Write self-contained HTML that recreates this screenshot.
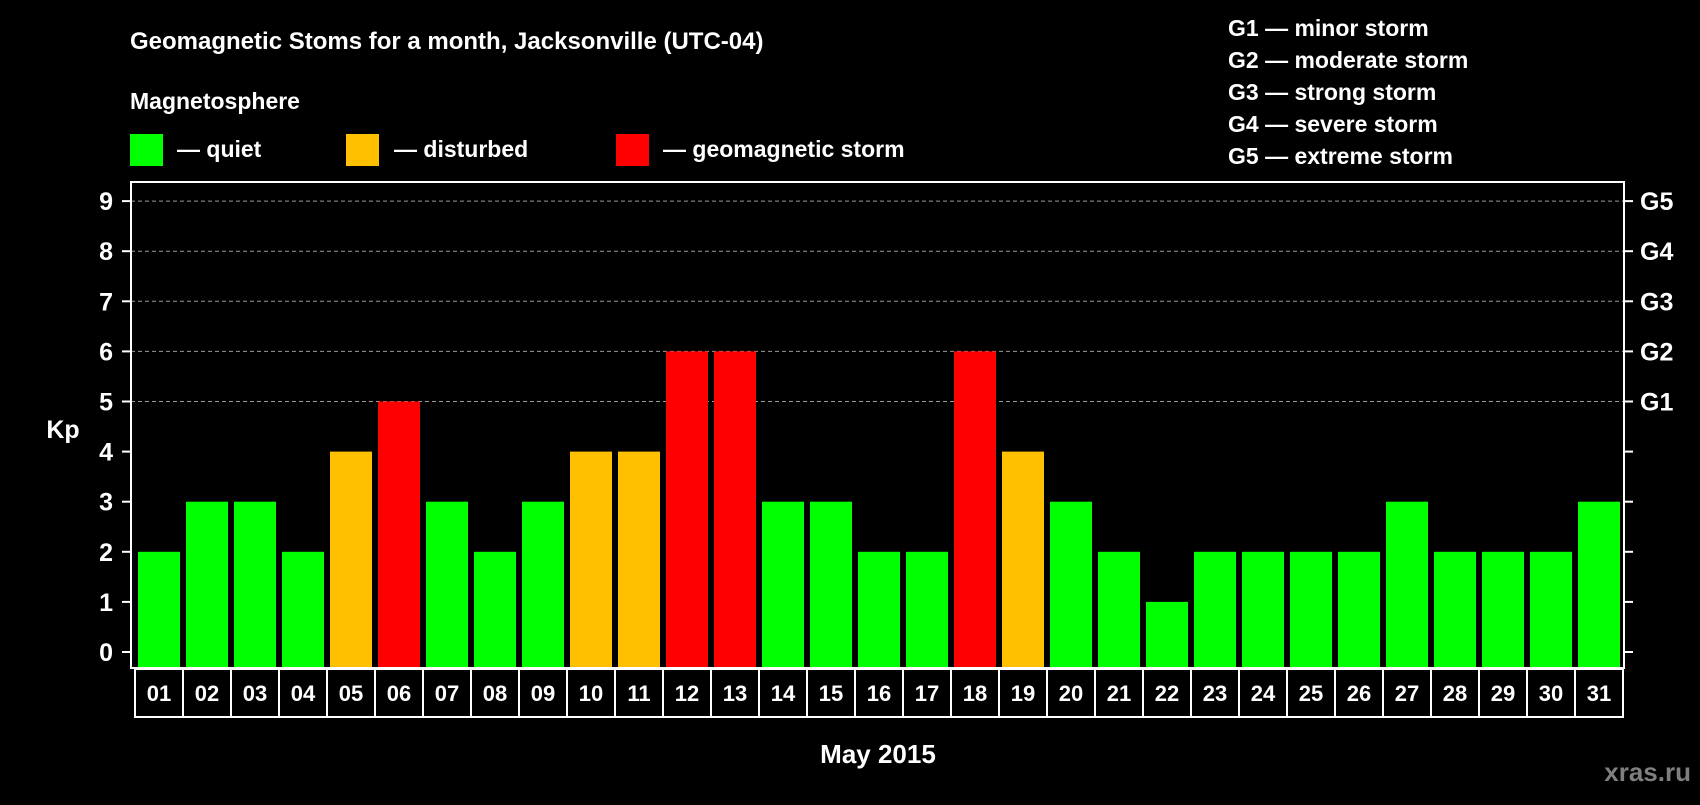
<!DOCTYPE html>
<html><head><meta charset="utf-8"><style>
html,body{margin:0;padding:0;background:#000;}
svg text{font-family:"Liberation Sans",Arial,sans-serif;font-weight:bold;fill:#fff;}
</style></head><body>
<svg id="chart" width="1700" height="800" viewBox="0 0 1700 800" xmlns="http://www.w3.org/2000/svg">
<rect width="1700" height="800" fill="#000"/>
<text x="130" y="49" font-size="24">Geomagnetic Stoms for a month, Jacksonville (UTC-04)</text>
<text x="130" y="109" font-size="23">Magnetosphere</text>
<g><rect x="130" y="134" width="33" height="32" fill="#00ff00"/><text x="177" y="157" font-size="23">— quiet</text></g>
<g><rect x="346" y="134" width="33" height="32" fill="#ffc000"/><text x="394" y="157" font-size="23">— disturbed</text></g>
<g><rect x="616" y="134" width="33" height="32" fill="#ff0000"/><text x="663" y="157" font-size="23">— geomagnetic storm</text></g>
<g font-size="23">
<text x="1228" y="36">G1 — minor storm</text>
<text x="1228" y="68">G2 — moderate storm</text>
<text x="1228" y="100">G3 — strong storm</text>
<text x="1228" y="132">G4 — severe storm</text>
<text x="1228" y="164">G5 — extreme storm</text>
</g>
<g id="grid"></g>
<g id="bars"></g>
<rect x="131" y="182" width="1493" height="486" fill="none" stroke="#fff" stroke-width="2"/>
<g id="axes"></g>
<text x="63" y="438" font-size="25" text-anchor="middle">Kp</text>
<text x="878" y="763" font-size="26" text-anchor="middle">May 2015</text>
<text x="1691" y="781" font-size="26" text-anchor="end" style="fill:#7f7f7f">xras.ru</text>
</svg>
<script>
const days = ["01","02","03","04","05","06","07","08","09","10","11","12","13","14","15","16","17","18","19","20","21","22","23","24","25","26","27","28","29","30","31"];
const kpValues = [2,3,3,2,4,5,3,2,3,4,4,6,6,3,3,2,2,6,4,3,2,1,2,2,2,2,3,2,2,2,3];
const yTicks = [0,1,2,3,4,5,6,7,8,9];
const gLabels = ["","","","","","G1","G2","G3","G4","G5"];
const NS="http://www.w3.org/2000/svg";
const y0=652, unit=50.1, cellX0=135, cellW=48, plotL=131, plotR=1624;
function yS(v){return y0-v*unit;}
function xS(i){return cellX0+i*cellW;}
function mk(tag,attrs,parent){const e=document.createElementNS(NS,tag);for(const k in attrs)e.setAttribute(k,attrs[k]);parent.appendChild(e);return e;}
const grid=document.getElementById('grid'),bars=document.getElementById('bars'),axes=document.getElementById('axes');
yTicks.forEach(function(v){
  const y=yS(v);
  if(v>=5){const g=mk('line',{x1:plotL,x2:plotR,y1:y,y2:y,stroke:'#999','stroke-dasharray':'4,3','stroke-width':1},grid);
    
    }
  const t1=mk('line',{x1:plotL-9,x2:plotL,y1:y,y2:y,stroke:'#fff','stroke-width':2},axes);
  
  
  const t2=mk('line',{x1:plotR,x2:plotR+9,y1:y,y2:y,stroke:'#fff','stroke-width':2},axes);
  
  
  const l=mk('text',{x:113,y:y+9,'font-size':25,'text-anchor':'end'},axes);l.textContent=v;
  
  
  if(gLabels[v]){const r=mk('text',{x:1640,y:y+9,'font-size':25},axes);r.textContent=gLabels[v];
    
    }
});
kpValues.forEach(function(v,i){
  const c=v>=5?'#ff0000':(v>=4?'#ffc000':'#00ff00');
  const b=mk('rect',{x:xS(i)+3,y:yS(v),width:42,height:668-yS(v),fill:c},bars);
  
  
  const box=mk('rect',{x:xS(i),y:669,width:cellW,height:48,fill:'none',stroke:'#fff','stroke-width':2},axes);
  
  
  const t=mk('text',{x:xS(i)+cellW/2,y:701,'font-size':22,'text-anchor':'middle'},axes);t.textContent=days[i];
  
  
});
</script>
</body></html>
